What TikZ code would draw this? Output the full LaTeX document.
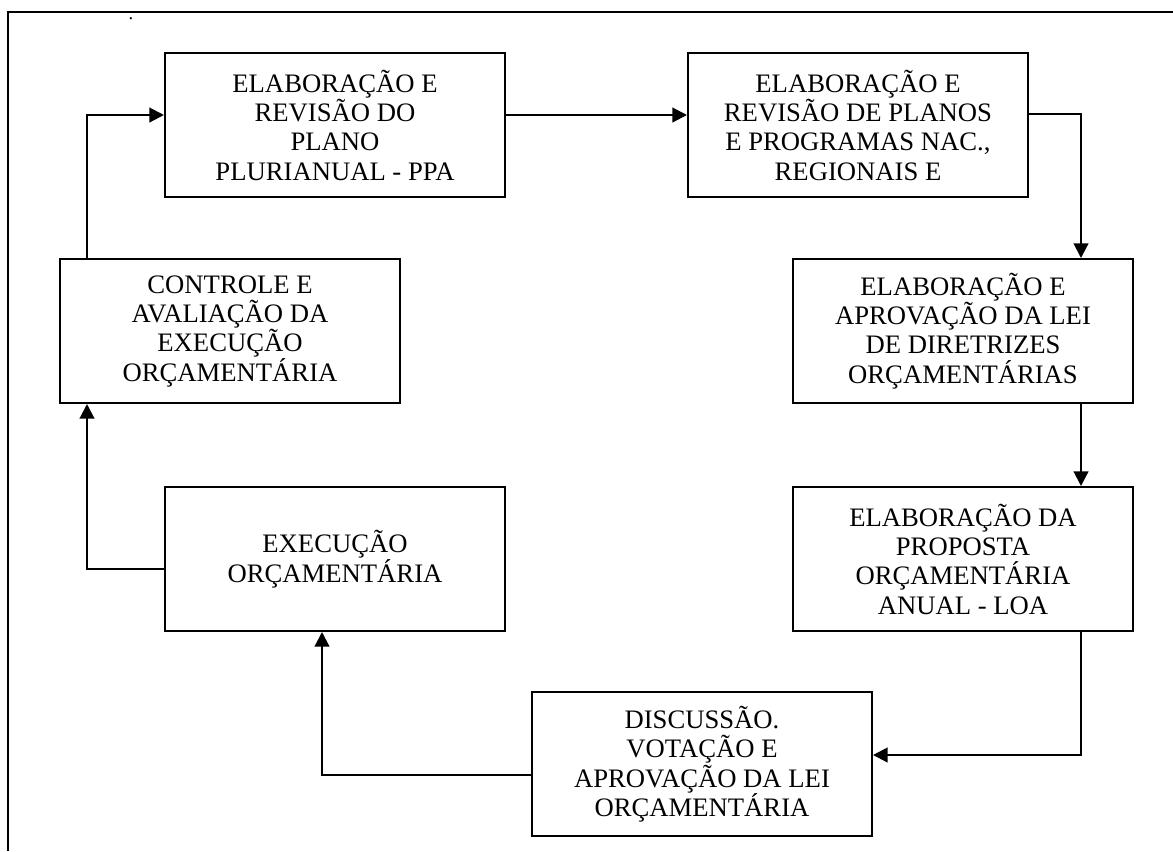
\documentclass[tikz,border=0pt]{standalone}
\usepackage{fontspec}
\setmainfont{Liberation Serif}
\usepackage{tikz}
\usetikzlibrary{arrows.meta}

\begin{document}
\begin{tikzpicture}[x=0.75pt,y=0.75pt,yscale=-1,xscale=1,
  caixa/.style={draw,line width=1.5pt,minimum width=255pt,minimum height=108pt,inner sep=0pt,align=center,font=\fontsize{20}{22}\selectfont},
  seta/.style={line width=1.6pt,-{Triangle[length=11pt,width=11pt]}}]

\useasboundingbox (0,0) rectangle (1173,851);

\draw [line width=1.6pt]  (8,851) -- (8,12) -- (1173,12) ;

\node (ponto) at (131,19) [inner sep=0pt] {\fontsize{14}{14}\selectfont .};


\node (ppa) at (335,125) [caixa] {ELABORAÇÃO E\\REVISÃO DO\\PLANO\\PLURIANUAL - PPA};

\node (planos) at (858,125) [caixa] {ELABORAÇÃO E\\REVISÃO DE PLANOS\\E PROGRAMAS NAC.,\\REGIONAIS E};

\node (ldo) at (963,331) [caixa] {ELABORAÇÃO E\\APROVAÇÃO DA LEI\\DE DIRETRIZES\\ORÇAMENTÁRIAS};

\node (loa) at (963,559) [caixa] {ELABORAÇÃO DA\\PROPOSTA\\ORÇAMENTÁRIA\\ANUAL - LOA};

\node (disc) at (702,764) [caixa] {DISCUSSÃO.\\VOTAÇÃO E\\APROVAÇÃO DA LEI\\ORÇAMENTÁRIA};

\node (exec) at (335,559) [caixa] {EXECUÇÃO\\ORÇAMENTÁRIA};

\node (ctrl) at (230,331) [caixa] {CONTROLE E\\AVALIAÇÃO DA\\EXECUÇÃO\\ORÇAMENTÁRIA};


\coordinate (k1) at (87,115);
\coordinate (k2) at (1081,114);
\coordinate (k3) at (1081,755);
\coordinate (k4) at (322,775);
\coordinate (k5) at (87,569);

\draw [seta] (ppa.east |- k1) -- (planos.west |- k1) ;
\draw [seta] (planos.east |- k2) -| (ldo.north -| k2) ;
\draw [seta] (ldo.south -| k2) -- (loa.north -| k2) ;
\draw [seta] (loa.south -| k3) |- (disc.east |- k3) ;
\draw [seta] (disc.west |- k4) -| (exec.south -| k4) ;
\draw [seta] (exec.west |- k5) -| (ctrl.south -| k5) ;
\draw [seta] (ctrl.north -| k1) |- (ppa.west |- k1) ;
\end{tikzpicture}
\end{document}
